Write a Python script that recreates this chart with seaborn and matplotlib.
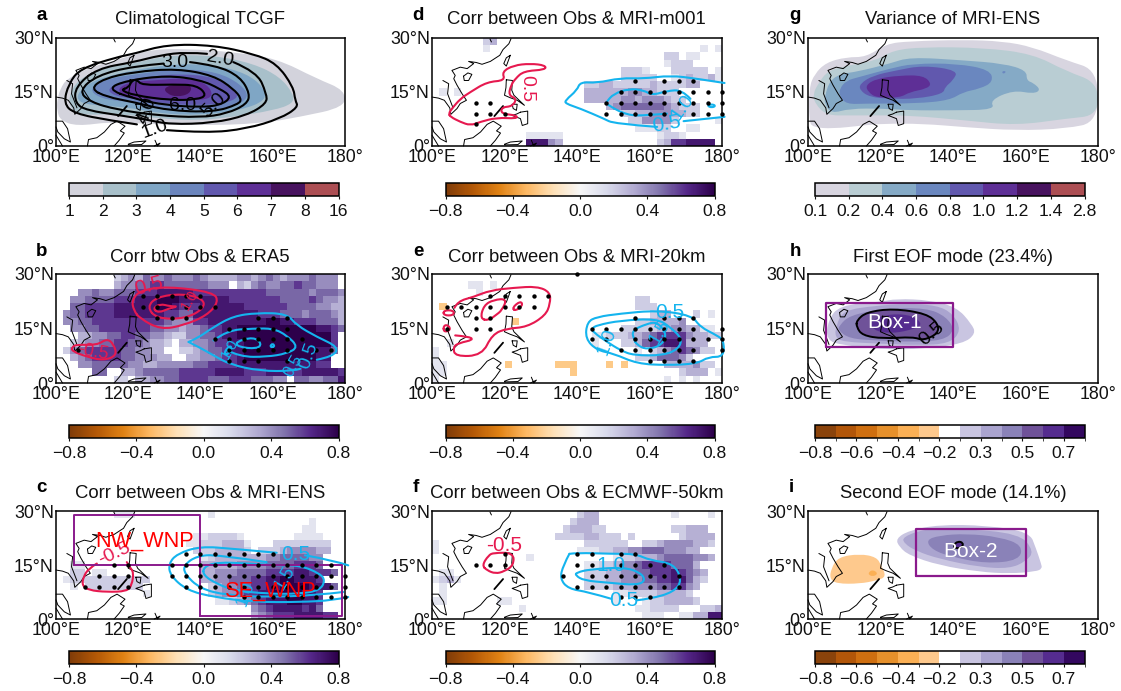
import numpy as np
import pandas as pd
import matplotlib
matplotlib.use("Agg")
import matplotlib.pyplot as plt
from matplotlib.colors import ListedColormap, BoundaryNorm, Normalize
from matplotlib.cm import ScalarMappable
from matplotlib.path import Path
from matplotlib.patches import PathPatch
import seaborn as sns

sns.set_style("white")
plt.rcParams['font.family'] = ['Liberation Sans', 'DejaVu Sans']
W, H = 1121, 691

# ---------- map outlines (lon, lat) ----------
COAST_MAIN = [(121.8,29.8),(121.2,28.4),(119.6,26.8),(118.7,25.2),(116.1,23.5),(113.8,22.7),(112.2,23.2),(110.1,23.5),(111.5,22.9),(109.7,21.5),(107.8,21.9),(105.5,21.0),(106.4,19.6),(106,18.7),(106.9,16.9),(108.3,14.5),(109.5,12.7),(107.8,11.8),(106.9,10.4),(105.2,8.8),(104.9,10.6),(103.4,12.7),(101.8,13.3),(100,13.6)]
COAST_INLAND = [(103,18.2),(104.6,17.3),(104.3,14.5),(105.8,10.6)]
COAST_MALAY = [(100,6.9),(101.8,6.9),(103.2,4.8),(104,1.1),(102.3,2),(100.5,3.9),(100,5.3)]
COAST_SUMATRA = [(100,3),(101.8,0)]
COAST_BORNEO = [(108.7,0),(109,1.8),(111.3,2.3),(113.4,3.9),(115.2,6),(116.9,6.9),(119.1,5.5),(117.8,4.2),(118.9,3.6),(117.5,1.6),(116.1,0)]
COAST_LUZON = [(120.5,18.4),(122.2,18.2),(122,15.5),(122.6,14.1),(125.5,11.3),(123.5,12.7),(121.6,13.4),(120,14.1),(120.4,16.2),(120.5,18.4)]
COAST_VISAYAS = [(122.1,11.6),(123.5,11.6),(123.3,9.9),(122.4,10.4),(122.1,11.6)]
COAST_MINDANAO = [(124.4,9.4),(126.4,9.7),(126.4,6.2),(124.9,5.7),(124.4,7.6),(122.1,8.5),(123.4,8.9),(124.4,9.4)]
COAST_PALAWAN = [(117.2,8.3),(119.6,11.1)]
COAST_TAIWAN = [(121.6,25.2),(120.5,22.2),(119.8,22.9),(120.5,24.5),(121.6,25.2)]
COAST_HAINAN = [(108.7,19.4),(109.9,20.3),(111,19.9),(110.1,18.2),(108.9,18.2),(108.7,19.4)]
COAST_SULAWESI = [(120,0.5),(121.6,1.1),(124.9,1.4),(123.7,0.4),(120,0.3)]
COAST_HALMAHERA = [(127.4,1.6),(128.1,0),(128.8,0.8),(127.2,0)]
COAST_NORTH = [(116,29.7),(116.4,28.9)]
COASTS = [COAST_MAIN, COAST_INLAND, COAST_MALAY, COAST_SUMATRA, COAST_BORNEO, COAST_LUZON, COAST_VISAYAS,
          COAST_MINDANAO, COAST_TAIWAN, COAST_HAINAN, COAST_SULAWESI, COAST_HALMAHERA, COAST_NORTH]

# ---------- band colours ----------
TWILIGHT = ['#d3d3dc','#a8c0ca','#7fa6c5','#6b85bd','#6158ae','#5e2f96','#48135f','#ac4e53']
TWILIGHT_G = ['#d8d5e0','#b9cdd3','#85aac6','#6a87bf','#6158ae','#5e2f96','#48135f','#ac4e53']
EOF_COLORS = ['#8a430b','#b25609','#cf6f10','#e6902b','#fbb055','#fec98d','#ffffff','#c9c5e1','#aaa4cf','#8a82b8','#6f5299','#552c8f','#33085f']

# ---------- panel a ----------
A_FILL = [
 [(100.3,12.7),(101.2,15.9),(103,18.7),(109.5,21.9),(119.6,24.7),(126.1,26.8),(136.2,27),(149.1,26.1),(161.1,24.3),(172.2,18.7),(180,15.5),(180,10.8),(167.6,8.1),(156.5,6.2),(139.9,5.7),(124.2,6.2),(115,6.7),(105.8,5.5),(101.2,7.1),(100.3,9.9)],
 [(103.5,13.6),(105.8,18.2),(112.3,21.5),(121.5,22.9),(130.7,25.2),(143.6,25.2),(154.7,22.9),(162,19.2),(165.7,14.5),(165.7,11.8),(160.2,9.9),(149.1,8.1),(139.9,7.1),(128.8,7.6),(116.9,9),(107.6,8.5),(104,10.4)],
 [(105.8,14.5),(109.5,17.8),(116.9,20.1),(124.2,21.5),(133.5,22.9),(144.5,22.4),(152.8,20.1),(157.4,16.4),(158.3,12.7),(151,9.9),(139.9,8.5),(128.8,9),(119.6,10.8),(110.4,11.3),(106.3,12.2)],
 [(109,15.9),(114.1,18.7),(123.3,20.1),(134.4,21.5),(144.5,20.6),(151,17.3),(153.7,13.6),(149.1,10.8),(139.9,9.9),(129.8,10.4),(120.6,12.2),(112.3,13.1)],
 [(114.1,15.9),(118.7,18.2),(125.2,19.2),(134.4,20.1),(143.6,19.2),(148.2,16.4),(151,13.6),(146.4,11.8),(139,11.3),(129.8,11.8),(121.5,13.1),(115.9,14)],
 [(116.9,15.9),(120.6,17.8),(127,18.2),(136.2,19),(141.8,17.3),(143.6,14),(140.8,12.7),(132.5,12.7),(123.3,13.1),(118.7,14)],
 [(129.8,16.2),(133.5,17.3),(137.6,16.9),(137.1,14.5),(133.5,13.6),(130.7,14.5)],
]
A_LINES = [
 [(130.7,4.4),(141.8,3.6),(152.8,4.8),(162,7.6),(167.1,10.8),(166.2,12.7),(165.7,16.4),(161.1,22.9),(154.7,25.6),(143.6,28),(130.7,28.2),(121.5,25.6),(116.9,24.7),(106.7,21.5),(103.5,17.3),(102.1,11.8),(105.1,9),(115,7.1),(122.4,6)],
 [(149.1,23.3),(155.6,20.6),(158.3,14.5),(158.3,11.8),(152.8,8.5),(143.6,6.4),(131.6,6),(125.2,7.3),(117.8,8.5),(108.6,9.9),(105.3,11.8),(105.3,16.4),(111.3,21.5),(121.5,23.3),(128.8,25.2),(136.2,26.1),(141.8,25.6)],
 [(137.1,23.3),(144.5,22.4),(151,19.2),(153.7,14.5),(152.8,11.6),(147.3,9),(139.9,7.9),(127.9,8.5),(116.9,10.1),(109.5,12.2),(106.3,15.3),(111.3,19.6),(121.5,22.2),(129.8,22.9)],
 [(109.5,15.9),(113.2,18.7),(121.5,20.6),(133.5,21.5),(143.6,19.6),(149.1,15.9),(151.4,13.1),(150.5,11.6),(143.6,9.4),(130.7,9.9),(121.5,12.2),(114.1,13.6),(109.5,15.9)],
 [(114.1,15.9),(119.6,18.2),(130.7,19.6),(139.9,18.4),(145.4,15.9),(148.7,13.6),(145.4,11.3),(139.9,10.8),(130.7,11.3),(121.5,13.1),(114.1,15.9)],
 [(120.1,16.2),(121,18.2),(122.4,18.4),(123.8,16.9),(132.5,17.1),(139,16.9),(141.8,14.1),(139,12.9),(131.6,12.7),(121.5,14.1),(117.8,15.6),(120.1,16.2)],
]
A_LABELS = [("3.0",133,23.3,0,14),("2.0",145.4,24.3,-10,14),("6.0",135.1,11.3,0,14),("5.0",143.6,11.3,45,14),("1.0",127.3,4.8,20,14),("4.0",125.2,9.9,70,14)]

# ---------- panel b ----------
HEAT_B = [
 "........2343544544454333344345434445444",
 "........3445566555555444.32454455655444",
 "...4454455566677777666666666655555545554",
 "..44555566677788877777776666666555565443",
 "..55666677777788766677777766666655554433",
 ".455666677777776655777777777666555455543",
 ".4455666666666654446677777777887766655532",
 "..44556666666554434456677888888888887765",
 "...334455665544322445567788998999988886",
 "..23445566554332.3344566778899999998886",
 ".24566666554433..2234556778889999998775",
 "..34566665544433..33445667888888888877",
 "...44555554433444445566667777777777766",
 ".....55..3345555566666777766677766777776",
 "........22.334455666655566655544.5544557",
]
RED_B = [
 [(121.5,20),(121,22.8),(123.3,25.5),(130.7,26.6),(143.6,25),(145,22.3),(141.8,18.6),(135.4,15.9),(129,14.7),(123.3,17.7),(121.5,20)],
 [(125.2,20.9),(127.9,23.7),(134.8,24.6),(140.8,23.2),(141,20.5),(135.8,17.7),(127.9,17.7),(125.2,20.9)],
 [(126.8,20.5),(128.8,21.8),(131.6,21.1),(133.9,21.1),(131.2,20.5),(128.4,19.3),(126.8,20.5)],
 [(104.4,9.9),(105.8,10.6),(111.3,10.4),(114.1,12.2),(115.9,10.8),(116.9,7.6),(113.2,6.2),(108.6,7.2),(104.4,8.8),(104.4,9.9)],
]
BLUE_B = [
 [(136.7,11.3),(139,12.2),(143.6,15.4),(149.1,18.4),(155.6,19.3),(163.9,19.1),(166.6,15.9),(172.2,12.7),(178.2,9.9),(176.8,7.3),(172.2,6.4)],
 [(167.6,3.9),(165.7,3.3),(156.5,3.3),(148.2,5.1),(143.6,7.6),(139.9,9.7),(136.7,11.3)],
 [(143.6,11.7),(147.3,14.5),(154.7,15),(160.2,15),(163.9,13.1),(167.1,9.9),(163.9,8.1),(158.3,7.2),(151,7.2),(147.3,9)],
 [(149.6,11.3),(154.7,12.7),(157,10.8),(155.6,9.4),(150.5,9.9),(149.6,11.3)],
 [(146.5,8.5),(148.2,10.4),(148.7,9.4),(147.3,7.6),(146.5,8.5)],
 [(159.1,9.9),(160,11),(160.6,9.9),(159.1,9.9)],
]
DOTS_B = {24:[124,128,132,136,140],21:[124,128,136,140,144],18:[128,132,136,156,160,164],15:[148,152,156,160,164],
          12:[144,148,152,156,160,164,168],9:[106,148,152,156,160,164,172,176],6:[148,152,156,164]}
RED_LABELS_B = [("0.5",125.6,26.6,15,15),("1.0",137,22.8,60,11),("-0.5",110.4,8.5,-10,13)]
BLUE_LABELS_B = [("0.5",169.9,7.6,70,14),("0.5",165.7,4.6,60,12),("1.0",148,9.5,60,11)]

# ---------- panel c ----------
HEAT_C = [
 "........111..........1..................",
 "...................................1....",
 "..................................11....",
 "...................1122221.......1111...",
 "..................112223331...22222222..",
 "...................22233332.2223444433..",
 "....................12333333344555544...",
 "..11................33333444455556665...",
 "..22.11.............3344455556666776665.",
 ".122222222222.......33445556677887776...",
 "..1.22222222.........234455667788887775.",
 "............1........2344566778888776...",
 "......................112345677788776...",
 "...........................4567777675...",
 "...........................345666777766.",
]
RED_C = [[(111.3,15.4),(109,14),(107.6,11.7),(107.2,9.4),(109,8),(114.1,7.5),(119.6,7.7),(121,9.4),(121.5,13),(120.4,14.4),(119.6,15.8)]]
BLUE_C = [
 [(161.1,18.4),(149.1,19.5),(139.9,20.2),(133.5,18.1),(131.2,15.4),(131.6,12.1),(136.2,8),(143.6,6.1),(154.7,4.7),(167.6,4.7),(176.8,5.2),(180.9,6.1)],
 [(168.9,17.7),(176.8,16.3),(180.9,14.9)],
 [(158.3,15.8),(144.5,17.9),(139,17.5),(135.5,15.1),(135.5,12.6),(139.9,8.4),(147.3,6.6),(158.3,6.1),(172.2,6.6),(179.5,7.5)],
 [(140.8,14.4),(144.5,15.8),(153.7,15.4),(161.1,14.9),(167.6,14.9),(173.1,12.6),(174.5,10.7),(173.1,8),(167.6,7),(158.3,7),(149.1,8),(144.5,9.8),(140.8,12.1),(140.8,14.4)],
]
DOTS_C = {18:[136,140,144,148,152,156,160],15:[116,120,132,136,140,144,148,152,156,160,164,168,172,176],
          12:[112,116,120,132,136,140,144,148,152,156,160,164,168,172,176,180],
          9:[108,112,116,120,136,140,144,148,152,156,160,164,168,172,176,180],6:[152,156,160,164,168,172,176,180]}
RED_LABELS_C = [("-0.5",116.3,18,25,14)]
BLUE_LABELS_C = [("0.5",166.3,18,0,15),("1.5",163.5,11.5,60,13),("1.0",152.5,7,70,13)]
BOXES_C = [(104.9,14.9,139.9,29),(140,0.8,179.3,15)]
TEXT_C = [("NW_WNP",124.4,21.6),("SE_WNP",159.4,7.7)]

# ---------- panel d ----------
HEAT_D = [
 ".......23...............................",
 ".......1.............................1.1",
 "................................22.11...",
 "................................1222....",
 "..........................2221...22222.1",
 "..........................22222..1232231",
 ".....................2233222223222233...",
 ".1.1.................3333334433222......",
 ".....................33333443444322.....",
 "........................3455555543222...",
 "..........................22334443322...",
 "...........................2244442.....1",
 "............................11122..11...",
 ".............11111.............1221.....",
 ".............77743.............23667777.",
]
RED_D = [[(104.6,9),(105.5,10.4),(107.8,13.1),(110.6,15),(115.2,17.8),(120.2,18.2),(119.3,20.6),(122.5,22.4),(127.1,22.9),(131.3,22.4),(131.3,21.2),(125.3,20.8),(123,18.7),(121.8,16.9),(121.1,14.1),(123.4,13.1),(122.1,11),(119.3,10.8),(119,9),(123.4,8.5),(123.4,7.6),(117.9,7.9),(113.3,6.7),(110.6,5.7),(107.8,6.7),(105.1,8.1),(104.6,9)]]
BLUE_D = [
 [(180.7,17.5),(173.1,18.7),(165.7,19.6),(158.4,18.7),(152,18.9),(145.5,17.5),(140.9,17.8),(140,15.5),(136.8,12.7),(136.8,11.8),(140.9,10.4),(147.4,7.6),(150.2,6.2),(162.1,5.3)],
 [(169.4,6.9),(180.7,8.1)],
 [(171.3,13.1),(169,15.6),(164.8,15.3),(160.7,14.1),(158.4,15.5),(154.3,15.9),(150.1,14.5),(148.1,12.2),(148.1,11.6),(153.8,8.5),(159.3,8.5),(164.8,9)],
 [(176.3,11.5),(178,11.5),(178,10.8),(176.3,10.8),(176.3,11.5)],
]
DOTS_D = {18:[156,164,168,172],15:[152,156,160,164,168,172,176,180],12:[112,116,148,152,156,160,164,168,172,176,180],
          9:[112,116,120,148,152,156,160,164,172,176,180],6:[112]}
RED_LABELS_D = [("0.5",126.2,15.9,270,14)]
BLUE_LABELS_D = [("0.5",164.8,6.2,10,15),("1.0",169,10.8,55,14)]

# ---------- panel e ----------
HEAT_E = [
 "........................................",
 ".....11.1...............................",
 "......1.................................",
 "............................22..........",
 ".a..........................222.........",
 "..............................233...2.1.",
 "...........a................2233334.....",
 "..........................2222233443311.",
 "......................112223345666643322",
 "..1...................1...223566776333..",
 "1...........................1.234565422.",
 "1...........................22355542....",
 "11........a......aaa....a.a.....3333422.",
 "11.................a..............2333.1",
 "1...............................1.1.1...",
]
RED_E = [
 [(106.2,20.7),(107.1,22.5),(111.5,23.7),(116.1,25.5),(122.5,26.2),(129,26.6),(132.6,25),(132.6,21.8),(131.3,18.6),(126.2,15.4),(120.7,15),(116.6,13.4),(113.8,7.6),(106.4,7.3),(105.8,9.9),(107.4,11),(111.5,11.9),(110.1,12.8),(106.4,13.1)],
 [(113.3,17.7),(114.3,21.4),(117,22.9),(120.7,23.2),(119.3,20),(117.5,18.6),(115.6,17.2),(113.3,17.7)],
 [(103.2,20),(106,20),(106,18.6),(103.2,18.6),(103.2,20)],
 [(103.2,15.9),(104.6,15.9),(105.1,14.5),(103.2,14),(103.2,15.9)],
 [(122.1,20.7),(124.4,22.6),(125.1,21.4),(123,19.8),(122.1,20.7)],
]
BLUE_E = [
 [(162.1,20),(171.7,18.6),(174,15.4),(178.6,13.1),(180.5,11.7),(180.5,7.2),(176.3,7.2),(173.1,5.3),(164.8,4.9),(156.6,5.3),(150.1,8.1),(145.5,9),(142.3,12.2),(142.8,16.8),(145.5,18.2),(152,19.1),(162.1,20)],
 [(144.1,15),(145.5,15.9),(152,17.2),(162.1,17.7),(165.7,15.4),(169,12.2),(168,9.4),(163.9,7.6),(155.6,7.6),(152,9),(148.3,11.3),(144.6,13.9),(144.1,15)],
 [(155.6,12.2),(155.2,14.5),(159.3,16.3),(162.1,16.8),(164.8,13.6),(163.4,10.4),(159.3,9.2),(156.6,10.4),(155.6,12.2)],
]
DOTS_E = {30:[140],24:[116,120,124,128,132],21:[104,108,112,116,120,124,128],18:[112,116,156,164,168,172],
          15:[104,112,116,144,148,152,156,160,164,168,172,180],12:[144,148,156,160,164,168,172,176,180],
          9:[152,156,160,164,168,172,180],6:[160,164,168,172]}
RED_LABELS_E = []
BLUE_LABELS_E = [("0.5",165.7,19.5,0,15),("1.0",148.3,11.3,70,14),("1.5",163,14,60,13)]

# ---------- panel f ----------
HEAT_F = [
 "....................233..........1....1.",
 "...................2333.................",
 "..................233322.........22333..",
 ".................222233222.2......23333.",
 "1....................222222..2234444332.",
 "1...................11122334455544433...",
 ".............1...........12233345555443.",
 ".....................1122344566665553...",
 ".11..................22233445566676543..",
 "1231.................22233444556677532..",
 ".1...................2222333444556643...",
 ".1.......................11222233332....",
 "11.......11..............1...12233332...",
 "............1...............112222...223",
 ".............................111..113377",
]
RED_F = [[(113.8,14.9),(115.6,17.7),(117,18.4),(122.5,18.4),(122.5,14.9),(119.9,13.2),(117.5,12.6),(115.2,13.5),(113.8,14.9)]]
BLUE_F = [
 [(137.9,18.1),(139.8,18.4),(149.9,18.1),(156.1,18.1),(160.2,16.3),(166.7,15.4),(169,10.7),(166.7,7.5),(160.2,5.6),(156.5,5.2)],
 [(149.5,5.6),(143.1,7.5),(137.6,8.4),(135.3,11.2),(136.2,14.9),(137.9,18.1)],
 [(139.8,12.9),(143.6,13.8),(152.9,14.4),(157.5,12.9),(158.9,10.7),(156.6,9.4),(148.4,10.1),(141.9,10.7),(139.6,12.1),(139.8,12.9)],
]
DOTS_F = {18:[120,140,144,152,156],15:[112,116,120,140,144,152,156,160,164],12:[136,144,148,152,156,160,164,168],
          9:[140,144,148,152,156,160,164,168],6:[152,156,160]}
RED_LABELS_F = [("-0.5",119.9,20.5,0,15)]
BLUE_LABELS_F = [("1.0",149.4,14.9,0,15),("0.5",153,5.2,0,15)]

# ---------- panel g ----------
G_FILL = [
 [(100.3,16.2),(101.8,20),(105,23.2),(110.6,24.7),(116.1,24.7),(121.6,28.4),(128,29.1),(142.7,29.5),(153.7,29.1),(162,27.5),(171.2,23.8),(180,21),(180,6.7),(171.2,4.8),(157.4,4.3),(143.6,5.2),(131.6,6.2),(120.6,6.2),(115,5.7),(106.8,4.8),(101.3,5.2),(100.3,7)],
 [(101.4,14.5),(102.8,17.3),(105.5,21),(111.5,22.4),(118.9,23.8),(123.5,26.6),(131.8,27.5),(148.4,27.3),(162,25.6),(171.2,20.8),(180,17.6),(180,8.5),(171.2,7.6),(157.4,5.7),(143.6,7.1),(128,8.5),(117.9,8.5),(111.5,8.5),(105.1,8.5),(101.9,11.8)],
 [(104.6,13.7),(106,18.2),(109.2,20.1),(113.4,20.6),(122.6,22.9),(128.1,24.7),(142.8,23.8),(153.9,22.9),(160.3,21),(160.3,18.2),(162.2,17.5),(164.2,15.6),(162.2,14.5),(156.6,15.5),(150.2,12.7),(151.6,10.1),(140.1,9.9),(128.1,9.9),(120.7,10.4),(111.5,10.4),(106.4,9),(104.6,11.8)],
 [(108.7,15.9),(110.6,18.2),(114.3,19.2),(122.6,21.5),(129,22.9),(141,22.9),(150.2,21.2),(151.1,17.8),(147.4,15.9),(142.8,15),(139.1,12.7),(129.9,11.8),(116.1,11.8),(110.6,11.6),(108.7,13.9)],
 [(114.3,17.3),(118,19.6),(124.4,21),(131.8,22.4),(141.4,21),(140,18.2),(137.8,16.4),(137.3,14.5),(129.9,13.1),(122.6,13.1),(117,13.6),(114.3,15.5)],
 [(115.9,16.9),(118.9,18.7),(125.3,19.6),(131.8,19.6),(134.1,17.3),(132.7,15.9),(128.1,15),(125.3,13.4),(118.9,13.4),(116.6,15)],
]
G_BLOB = [(153.4,20.8),(154.8,20.8),(153.9,19.9)]

# ---------- panel h ----------
H_FILL = [
 [(105.5,17.2),(108.7,21.4),(119.8,22.3),(124.4,23.2),(133.6,22.8),(141,20.9),(145.1,16.3),(146.3,13.6),(142.8,10.8),(131.8,9.4),(120.7,9.2),(109.7,10.4),(105.1,11.7)],
 [(107.8,15.9),(109.7,20),(118.9,21.3),(127.2,21.8),(135.5,21.4),(140,19.1),(142.3,14.5),(139.1,10.8),(129.9,10.4),(120.7,10.8),(109.7,11.3),(107.4,12.7)],
 [(108.7,15.9),(111.5,18.6),(120.7,20.5),(132.7,20.7),(138.2,18.2),(140.5,14.5),(137.3,11.7),(128.1,11.3),(118.9,11.7),(111.5,12.2),(108.3,14.5)],
 [(113.4,17.2),(116.1,19.5),(123.5,20.5),(132.7,19.1),(135.9,16.3),(135.9,13.6),(131.8,11.7),(129,12.7),(120.7,12.2),(115,13.1),(113.4,15.4)],
 [(117,17.2),(122.6,19.1),(129,18.6),(131.8,15.9),(128.1,14.5),(122.6,13.6),(118,14.5)],
]
H_LINE = [(113.4,17.2),(116.1,19.5),(123.5,20.5),(132.7,19.1),(135.9,16.3),(135.9,13.6),(131.8,11.7),(129,12.7),(120.7,12.2),(115,13.1),(113.4,15.4),(113.4,17.2)]
BOX_H = (104.9,9.9,140,22)

# ---------- panel i ----------
I_ORANGE = [(106.4,14),(108.3,17.2),(114.3,18.1),(118.9,17.2),(120.2,14.9),(121.6,11.7),(118.9,10.7),(114.3,9.8),(107.9,9.8),(106,11.2)]
I_ORANGE2 = [(116.4,12.6),(117.8,13.8),(119.4,12.6),(117.8,11.7)]
I_FILL = [
 [(124.2,22.3),(127.9,24.6),(136.2,26.2),(149.1,26),(161.1,24.2),(162.9,19.6),(164.3,15.4),(164.6,14),(162.9,13.2),(155.6,12.6),(147.3,13.1),(136.2,14.9),(127.9,17.7),(125.2,20)],
 [(126.1,22.8),(132.5,25.1),(141.7,25.1),(158.3,23.8),(162.4,18.8),(160.1,16),(155.6,14),(147.3,14.4),(136.2,16.7),(129.8,18.9),(126.5,21)],
 [(132.5,21.9),(136.2,23.2),(143.6,23.7),(152.8,22.8),(159.2,20.5),(158.3,16.3),(149.1,15.4),(139.9,17.2),(134.4,19.1)],
]
I_CORE = [(140.1,20.5),(141.3,21.6),(142.8,21.2),(142.6,20),(140.8,19.5)]
BOX_I = (129.8,11.9,160,25)

# ---------- tick labels ----------
LON_TICKS = [100,120,140,160,180]
LON_LABELS = ['100°E','120°E','140°E','160°E','180°']
LAT_TICKS = [0,15,30]
LAT_LABELS = ['0°','15°N','30°N']
CORR_TICKS = [-0.8,-0.4,0.0,0.4,0.8]
CORR_LABELS = ['−0.8','−0.4','0.0','0.4','0.8']
A_TICKS = ['1','2','3','4','5','6','7','8','16']
G_TICKS = ['0.1','0.2','0.4','0.6','0.8','1.0','1.2','1.4','2.8']
EOF_BOUNDS = [-0.8,-0.7,-0.6,-0.5,-0.4,-0.3,-0.2,0.2,0.3,0.4,0.5,0.6,0.7,0.8]
EOF_TICKS = [-0.8,-0.6,-0.4,-0.2,0.3,0.5,0.7]
EOF_LABELS = ['−0.8','−0.6','−0.4','−0.2','0.3','0.5','0.7']
TITLES = {'a':'Climatological TCGF','b':'Corr btw Obs & ERA5','c':'Corr between Obs & MRI-ENS',
          'd':'Corr between Obs & MRI-m001','e':'Corr between Obs & MRI-20km','f':'Corr between Obs & ECMWF-50km',
          'g':'Variance of MRI-ENS','h':'First EOF mode (23.4%)','i':'Second EOF mode (14.1%)'}

# ---------- layout (pixels) ----------
COL_X = {0:(56,345),1:(432,722),2:(808,1098)}
ROW_Y = {0:(38,146),1:(274,383),2:(511,619)}
CB_X = {0:(69,338.5),1:(445.5,714.5),2:(815,1084.5)}
CB_Y = {0:(183,196),1:(425,437.5),2:(651,664)}
TITLE_XY = {'a':(200,20),'b':(200,257),'c':(200,493),'d':(576,20),'e':(577,257),'f':(577,493),'g':(953,20),'h':(953,257),'i':(953,493)}
LETTER_XY = {'a':(41.5,15),'b':(42,251),'c':(41.5,488),'d':(418,15),'e':(418,251),'f':(416,487),'g':(795,16),'h':(795,251),'i':(791.5,487)}

RED = '#e6194f'
BLUE = '#14b4ee'
BOXC = '#8a1a8c'

fig = plt.figure(figsize=(W/100, H/100), dpi=100)

def rect(x0, x1, y0, y1):
    return [x0/W, 1-y1/H, (x1-x0)/W, (y1-y0)/H]

def line(ax, pts, color, lw, z=4):
    df = pd.DataFrame(pts, columns=['lon','lat'])
    sns.lineplot(data=df, x='lon', y='lat', sort=False, estimator=None, errorbar=None, color=color,
                 linewidth=lw, ax=ax, legend=False, clip_on=False, zorder=z)

def curve_path(pts, closed):
    """Outline with the read points as Bezier control points."""
    p = [tuple(q) for q in pts]
    mid = lambda a, b: ((a[0]+b[0])/2, (a[1]+b[1])/2)
    if closed:
        if p[0] == p[-1]:
            p = p[:-1]
        verts = [mid(p[-1], p[0])]; codes = [Path.MOVETO]
        for i, q in enumerate(p):
            verts += [q, mid(q, p[(i+1) % len(p)])]
            codes += [Path.CURVE3, Path.CURVE3]
        return Path(verts, codes)
    verts = [p[0]]; codes = [Path.MOVETO]
    for i in range(1, len(p)-1):
        end = mid(p[i], p[i+1]) if i < len(p)-2 else p[-1]
        verts += [p[i], end]
        codes += [Path.CURVE3, Path.CURVE3]
    if len(p) == 2:
        verts.append(p[1]); codes.append(Path.LINETO)
    return Path(verts, codes)

def contour(ax, pts, color, lw, z=4):
    closed = tuple(pts[0]) == tuple(pts[-1])
    ax.add_patch(PathPatch(curve_path(pts, closed), fill=False, edgecolor=color, linewidth=lw,
                           zorder=z, clip_on=False, joinstyle='round', capstyle='round'))

def band(ax, pts, color, z=1):
    ax.add_patch(PathPatch(curve_path(pts, True), facecolor=color, edgecolor='none', zorder=z))

def grid(rows):
    out = []
    for r in rows:
        r = r.ljust(40,'.')[:40]
        out.append([np.nan if c=='.' else (-0.25 if c=='a' else 0.1*int(c)) for c in r])
    return pd.DataFrame(out)

def make_axes(col, row, heat=None):
    x0,x1 = COL_X[col]; y0,y1 = ROW_Y[row]
    if heat is not None:
        axh = fig.add_axes(rect(x0,x1,y0,y1))
        sns.heatmap(grid(heat), ax=axh, cmap='PuOr', vmin=-0.8, vmax=0.8, cbar=False,
                    xticklabels=False, yticklabels=False)
        ax = fig.add_axes(rect(x0,x1,y0,y1))
        ax.patch.set_alpha(0)
    else:
        ax = fig.add_axes(rect(x0,x1,y0,y1))
    return ax

def finish(ax, key):
    for pts in COASTS:
        line(ax, pts, 'black', 0.7, z=3)
    line(ax, COAST_PALAWAN, 'black', 1.3, z=3)
    ax.set_xlim(100,180); ax.set_ylim(0,30)
    ax.set_xlabel(''); ax.set_ylabel('')
    ax.set_xticks(LON_TICKS); ax.set_xticklabels(LON_LABELS)
    ax.set_yticks(LAT_TICKS); ax.set_yticklabels(LAT_LABELS)
    ax.tick_params(length=0, labelsize=12.8, colors='#111111')
    ax.tick_params(axis='x', pad=2.5)
    ax.tick_params(axis='y', pad=1.5)
    for s in ax.spines.values():
        s.set_visible(True); s.set_color('black'); s.set_linewidth(1.1)
    ax.grid(False)
    tx,ty = TITLE_XY[key]
    fig.text(tx/W, 1-ty/H, TITLES[key], ha='center', va='center', fontsize=13.3, color='#111111')
    lx,ly = LETTER_XY[key]
    fig.text(lx/W, 1-ly/H, key, ha='center', va='center', fontsize=13.5, fontweight='bold', color='black')

def dots(ax, d):
    lats = [la for la, lons in d.items() for _ in lons]
    lons = [lo for la, ll in d.items() for lo in ll]
    sns.scatterplot(x=lons, y=lats, color='black', s=10, linewidth=0, ax=ax, legend=False, zorder=6, clip_on=False)

def labels(ax, items, color):
    for t,x,y,r,fs in items:
        ax.text(x, y, t, color=color, rotation=r, fontsize=fs, ha='center', va='center', zorder=7)

def box(ax, b, lw=1.4):
    x0,y0,x1,y1 = b
    line(ax, [(x0,y0),(x1,y0),(x1,y1),(x0,y1),(x0,y0)], BOXC, lw, z=5)

def corr_panel(col, row, key, heat, reds, blues, ds, rl, bl):
    ax = make_axes(col, row, heat)
    for p in reds: contour(ax, p, RED, 1.5)
    for p in blues: contour(ax, p, BLUE, 1.5)
    dots(ax, ds)
    labels(ax, rl, RED); labels(ax, bl, BLUE)
    return ax

def style_cb(cb):
    cb.outline.set_linewidth(1.1); cb.outline.set_edgecolor('black')
    cb.ax.tick_params(length=2.5, width=0.8, labelsize=12.6, pad=3.5, colors='#111111')

def corr_cbar(col, row):
    cax = fig.add_axes(rect(*CB_X[col], *CB_Y[row]))
    cb = fig.colorbar(ScalarMappable(Normalize(-0.8,0.8),'PuOr'), cax=cax, orientation='horizontal', ticks=CORR_TICKS)
    cb.ax.set_xticklabels(CORR_LABELS)
    style_cb(cb)

def band_cbar(col, row, colors, labs):
    cax = fig.add_axes(rect(*CB_X[col], *CB_Y[row]))
    cb = fig.colorbar(ScalarMappable(BoundaryNorm(range(9),8), ListedColormap(colors)), cax=cax,
                      orientation='horizontal', ticks=list(range(9)), spacing='uniform')
    cb.ax.set_xticklabels(labs)
    style_cb(cb)

def eof_cbar(col, row):
    cax = fig.add_axes(rect(*CB_X[col], *CB_Y[row]))
    cb = fig.colorbar(ScalarMappable(BoundaryNorm(EOF_BOUNDS,13), ListedColormap(EOF_COLORS)), cax=cax,
                      orientation='horizontal', ticks=EOF_TICKS, spacing='uniform')
    cb.ax.set_xticklabels(EOF_LABELS)
    style_cb(cb)

# a
ax = make_axes(0,0)
for p,c in zip(A_FILL, TWILIGHT): band(ax, p, c)
for p in A_LINES: contour(ax, p, 'black', 1.5)
labels(ax, A_LABELS, 'black')
finish(ax,'a'); band_cbar(0,0,TWILIGHT,A_TICKS)

# b
ax = corr_panel(0,1,'b',HEAT_B,RED_B,BLUE_B,DOTS_B,RED_LABELS_B,BLUE_LABELS_B)
finish(ax,'b'); corr_cbar(0,1)

# c
ax = corr_panel(0,2,'c',HEAT_C,RED_C,BLUE_C,DOTS_C,RED_LABELS_C,BLUE_LABELS_C)
for b in BOXES_C: box(ax,b)
for t,x,y in TEXT_C:
    ax.text(x,y,t,color='#ff0000',fontsize=15.7,ha='center',va='center',zorder=8)
finish(ax,'c'); corr_cbar(0,2)

# d, e, f
ax = corr_panel(1,0,'d',HEAT_D,RED_D,BLUE_D,DOTS_D,RED_LABELS_D,BLUE_LABELS_D); finish(ax,'d'); corr_cbar(1,0)
ax = corr_panel(1,1,'e',HEAT_E,RED_E,BLUE_E,DOTS_E,RED_LABELS_E,BLUE_LABELS_E); finish(ax,'e'); corr_cbar(1,1)
ax = corr_panel(1,2,'f',HEAT_F,RED_F,BLUE_F,DOTS_F,RED_LABELS_F,BLUE_LABELS_F); finish(ax,'f'); corr_cbar(1,2)

# g
ax = make_axes(2,0)
for p,c in zip(G_FILL, TWILIGHT_G): band(ax, p, c)
band(ax, G_BLOB, TWILIGHT_G[3])
finish(ax,'g'); band_cbar(2,0,TWILIGHT_G,G_TICKS)

# h
ax = make_axes(2,1)
for p,c in zip(H_FILL, EOF_COLORS[7:]): band(ax, p, c)
contour(ax, H_LINE, 'black', 1.4)
box(ax, BOX_H, 1.6)
ax.text(123.8,16.6,'Box-1',color='white',fontsize=15,ha='center',va='center',zorder=8)
ax.text(134,13.6,'0.5',color='black',fontsize=14,rotation=40,ha='center',va='center',zorder=7)
finish(ax,'h'); eof_cbar(2,1)

# i
ax = make_axes(2,2)
band(ax, I_ORANGE, EOF_COLORS[5])
band(ax, I_ORANGE2, EOF_COLORS[4])
for p,c in zip(I_FILL, EOF_COLORS[7:]): band(ax, p, c)
band(ax, I_CORE, EOF_COLORS[11], z=2)
contour(ax, I_CORE+I_CORE[:1], 'black', 1.4)
box(ax, BOX_I, 1.6)
ax.text(144.9,18.8,'Box-2',color='white',fontsize=15,ha='center',va='center',zorder=8)
finish(ax,'i'); eof_cbar(2,2)

fig.savefig('out.png', dpi=100)
